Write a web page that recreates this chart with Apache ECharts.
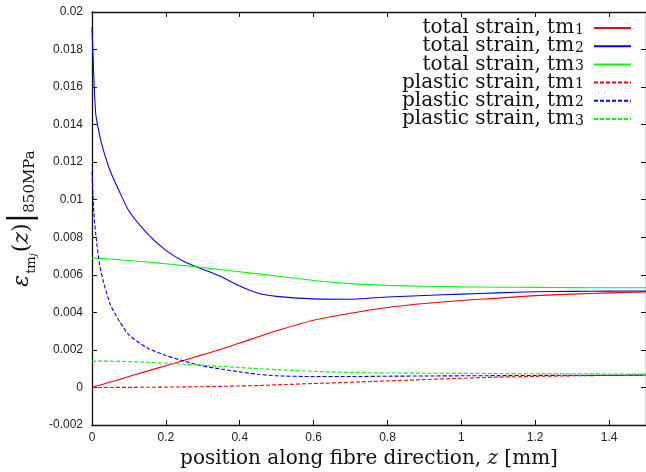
<!DOCTYPE html>
<html>
<head>
<meta charset="utf-8">
<script src="https://cdn.jsdelivr.net/npm/echarts@6/dist/echarts.min.js"></script>
<style>
html,body{margin:0;padding:0;background:#fff;}
#c{width:646px;height:472px;}
</style>
</head>
<body>
<div id="c"></div>
<script>
// x positions (mm)
const xs = [0, 0.005, 0.01, 0.02, 0.03, 0.05, 0.075, 0.1, 0.15, 0.2, 0.25, 0.3, 0.35, 0.4, 0.45, 0.5, 0.6, 0.7, 0.8, 0.9, 1.0, 1.1, 1.2, 1.3, 1.4, 1.5];

const totalTm1 = [0, 0.00003, 0.00006, 0.00012, 0.00017, 0.00029, 0.00043, 0.00058, 0.00087, 0.00116, 0.00145, 0.00175, 0.00204, 0.00237, 0.0027, 0.00302, 0.00358, 0.00395, 0.00426, 0.00447, 0.00463, 0.00476, 0.00489, 0.00497, 0.00504, 0.00509];
const totalTm2 = [0.0192, 0.0165, 0.0146, 0.0135, 0.0127, 0.0115, 0.0104, 0.0094, 0.0082, 0.0073, 0.0067, 0.0063, 0.0059, 0.0054, 0.00502, 0.00485, 0.00472, 0.0047, 0.00482, 0.0049, 0.00497, 0.00504, 0.0051, 0.00512, 0.00513, 0.00514];
const totalTm3 = [0.0069, 0.0069, 0.00689, 0.00688, 0.00687, 0.00684, 0.0068, 0.00676, 0.00668, 0.00659, 0.00649, 0.00639, 0.00627, 0.00616, 0.00605, 0.00594, 0.0057, 0.00553, 0.00544, 0.00539, 0.00536, 0.00534, 0.00533, 0.00532, 0.00531, 0.00531];
const plasticTm1 = [0, 0, 0, 0, 0, 0, 0.000003, 0.000005, 0.00001, 0.00002, 0.00003, 0.00004, 0.00006, 0.00008, 0.0001, 0.00014, 0.00021, 0.00028, 0.00035, 0.00042, 0.00049, 0.00055, 0.00059, 0.00062, 0.00064, 0.00066];
const plasticTm2 = [0.0115, 0.0093, 0.0082, 0.0066, 0.0057, 0.0044, 0.0035, 0.0028, 0.0021, 0.0017, 0.0014, 0.00114, 0.00098, 0.00083, 0.0007, 0.00062, 0.00058, 0.00058, 0.0006, 0.00061, 0.00062, 0.00063, 0.00064, 0.00065, 0.00065, 0.00066];
const plasticTm3 = [0.00141, 0.0014, 0.0014, 0.0014, 0.0014, 0.0014, 0.00139, 0.00138, 0.00134, 0.00129, 0.00124, 0.00118, 0.00112, 0.00106, 0.001, 0.00095, 0.00086, 0.0008, 0.00077, 0.00076, 0.00075, 0.00074, 0.00073, 0.00073, 0.00072, 0.00072];

const seriesNames = ['total strain, tm1', 'total strain, tm2', 'total strain, tm3', 'plastic strain, tm1', 'plastic strain, tm2', 'plastic strain, tm3'];
const seriesValues = [totalTm1, totalTm2, totalTm3, plasticTm1, plasticTm2, plasticTm3];
const seriesColors = ['#ff0000', '#0000ff', '#00ff00', '#ff0000', '#0000ff', '#00ff00'];
const seriesDashed = [false, false, false, true, true, true];

const xTicks = { min: 0, max: 1.5, interval: 0.2 };
const yTicks = { min: -0.002, max: 0.02, interval: 0.002 };

const serif = 'DejaVu Serif';
const sans = 'Liberation Sans';

const chart = echarts.init(document.getElementById('c'), null, { renderer: 'canvas' });

const axisLineStyle = { color: '#111', width: 1.3 };
const tickStyle = { show: true, inside: true, length: 5, lineStyle: { color: '#111', width: 1 } };

const option = {
  animation: false,
  backgroundColor: '#fff',
  grid: { left: 92, right: 0, top: 12, bottom: 47, containLabel: false, outerBoundsMode: 'none' },
  legend: {
    orient: 'vertical',
    align: 'right',
    right: 14,
    top: 18,
    padding: 0,
    itemGap: -1.8,
    itemWidth: 37,
    itemHeight: 10,
    itemStyle: { opacity: 0 },
    data: seriesNames,
    formatter: function (n) {
      return '{a|' + n.slice(0, -1) + '}{b|' + n.slice(-1) + '}';
    },
    textStyle: {
      padding: [0, 5, 0, 0],
      rich: {
        a: { fontFamily: serif, fontSize: 20, color: '#111', lineHeight: 18 },
        b: { fontFamily: serif, fontSize: 14, color: '#111', lineHeight: 8, verticalAlign: 'bottom', padding: [0, 0, 0, 1] }
      }
    }
  },
  xAxis: [
    {
      type: 'value', position: 'bottom', min: xTicks.min, max: xTicks.max, interval: xTicks.interval,
      axisLine: { show: true, onZero: false, lineStyle: axisLineStyle },
      axisTick: tickStyle,
      splitLine: { show: false },
      axisLabel: { show: true, fontFamily: sans, fontSize: 12, color: '#222', margin: 7, showMaxLabel: false,
        formatter: v => String(+v.toFixed(1)) },
      name: '{t|position along fibre direction, }{i|z}{t| [mm]}',
      nameLocation: 'middle',
      nameGap: 23,
      nameTextStyle: {
        rich: {
          t: { fontFamily: serif, fontSize: 20, color: '#111' },
          i: { fontFamily: serif, fontStyle: 'italic', fontSize: 20, color: '#111' }
        }
      }
    },
    {
      type: 'value', position: 'top', min: xTicks.min, max: xTicks.max, interval: xTicks.interval,
      axisLine: { show: true, onZero: false, lineStyle: axisLineStyle },
      axisTick: tickStyle,
      splitLine: { show: false },
      axisLabel: { show: false }
    }
  ],
  yAxis: [
    {
      type: 'value', position: 'left', min: yTicks.min, max: yTicks.max, interval: yTicks.interval,
      axisLine: { show: true, onZero: false, lineStyle: axisLineStyle },
      axisTick: tickStyle,
      splitLine: { show: false },
      axisLabel: { show: true, fontFamily: sans, fontSize: 12, color: '#222', margin: 9,
        formatter: v => String(+v.toFixed(3)) },
      name: '{e|ε}{s|tm}{ss|j}{p|(}{i|z}{p|)}{bar||}{s2|850MPa}',
      nameLocation: 'middle',
      nameGap: 52,
      nameRotate: 90,
      nameTextStyle: {
        rich: {
          e: { fontFamily: serif, fontStyle: 'italic', fontSize: 22, color: '#111', verticalAlign: 'middle' },
          s: { fontFamily: serif, fontSize: 13, color: '#111', verticalAlign: 'bottom', padding: [0, 0, 0, 1] },
          ss: { fontFamily: serif, fontStyle: 'italic', fontSize: 10, color: '#111', verticalAlign: 'bottom', padding: [0, 1, 0, 0] },
          p: { fontFamily: serif, fontSize: 22, color: '#111', verticalAlign: 'middle' },
          i: { fontFamily: serif, fontStyle: 'italic', fontSize: 22, color: '#111', verticalAlign: 'middle' },
          bar: { fontFamily: serif, fontSize: 32, color: '#111', verticalAlign: 'middle' },
          s2: { fontFamily: serif, fontSize: 15, color: '#111', verticalAlign: 'bottom' }
        }
      }
    },
    {
      type: 'value', position: 'right', min: yTicks.min, max: yTicks.max, interval: yTicks.interval,
      axisLine: { show: true, onZero: false, lineStyle: axisLineStyle },
      axisTick: tickStyle,
      splitLine: { show: false },
      axisLabel: { show: false }
    }
  ],
  series: seriesNames.map((name, k) => ({
    name: name,
    type: 'line',
    xAxisIndex: 0,
    yAxisIndex: 0,
    showSymbol: false,
    symbol: 'none',
    smooth: 0.2,
    color: seriesColors[k],
    lineStyle: { color: seriesColors[k], width: 1.1, type: seriesDashed[k] ? [4, 2] : 'solid' },
    data: xs.map((x, i) => [x, seriesValues[k][i]])
  }))
};

chart.setOption(option);
</script>
</body>
</html>
